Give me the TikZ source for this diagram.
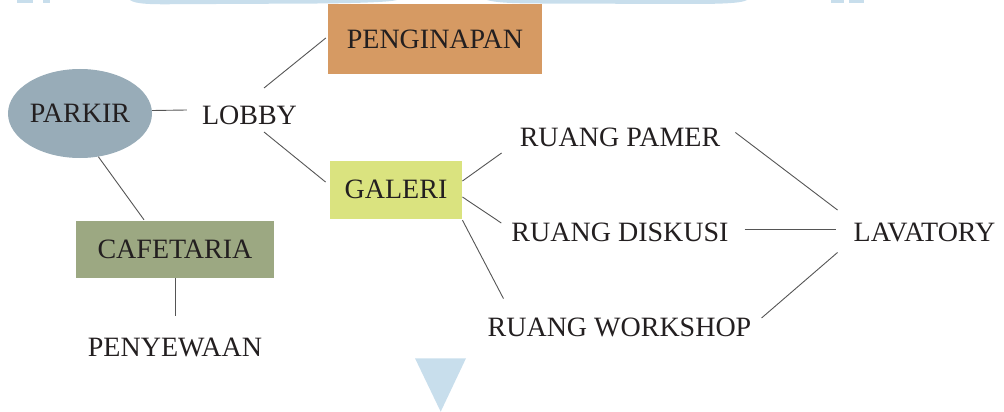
\documentclass[tikz,border=0pt]{standalone}
\usepackage{fontspec}
\setmainfont{Liberation Serif}
\usetikzlibrary{shapes.geometric}
\definecolor{parkircol}{HTML}{98ACB8}
\definecolor{pencol}{HTML}{D69A63}
\definecolor{galcol}{HTML}{DAE37F}
\definecolor{cafcol}{HTML}{9CA882}
\definecolor{txtcol}{HTML}{231F20}
\definecolor{linecol}{HTML}{555555}
\definecolor{wmcol}{HTML}{C8DEEC}
\begin{document}
\begin{tikzpicture}[x=1pt,y=-1pt,
  lbl/.style={inner sep=0pt, text height=18.5pt, text depth=0pt, text=txtcol,
              font=\fontsize{28}{34}\selectfont},
  boxnode/.style={lbl, rectangle, draw=none},
  conn/.style={draw=linecol, line width=0.9pt},
  wm/.style={fill=wmcol, draw=none}]
\useasboundingbox (0,0) rectangle (1004,412);

% watermark pieces
\fill[wm] (17,0) rectangle (33,3.5);
\fill[wm] (43,0) rectangle (50,3.5);
\fill[wm] (130,0) .. controls (135,4) and (150,4.5) .. (175,4.2) -- (300,3.6) .. controls (360,3.4) and (390,2) .. (397,0) -- cycle;
\fill[wm] (487,0) .. controls (495,2.5) and (510,3.4) .. (540,3.5) -- (690,4) .. controls (725,4) and (742,3) .. (747,0) -- cycle;
\fill[wm] (831,0) rectangle (844,3.5);
\fill[wm] (849,0) rectangle (864,3.5);
\fill[wm] (415,358.3) -- (466,358.3) -- (440.7,411.7) -- cycle;

% nodes
\node[lbl, ellipse, fill=parkircol, minimum width=144pt, minimum height=89pt] (parkir) at (80,113.5) {PARKIR};
\node[lbl] (lobby) at (249.5,115) {LOBBY};
\node[boxnode, fill=pencol, minimum width=214pt, minimum height=70pt] (pen) at (435,39) {PENGINAPAN};
\node[boxnode, fill=galcol, minimum width=132.5pt, minimum height=58pt] (galeri) at (396,189.5) {GALERI};
\node[boxnode, fill=cafcol, minimum width=198pt, minimum height=57pt] (caf) at (175,249.5) {CAFETARIA};
\node[lbl] (peny) at (175,347.5) {PENYEWAAN};
\node[lbl] (pamer) at (620,137.5) {RUANG PAMER};
\node[lbl] (diskusi) at (620,232.5) {RUANG DISKUSI};
\node[lbl] (workshop) at (619.5,327) {RUANG WORKSHOP};
\node[lbl] (lav) at (924.5,232.5) {LAVATORY};

% connectors
\draw[conn] ([shift={(0,-3)}]parkir.east) -- ([shift={(-15,-5)}]lobby.west);
\draw[conn] ([shift={(14.5,-27)}]lobby.center) -- ([shift={(-2,-1)}]pen.west);
\draw[conn] ([shift={(14.5,17)}]lobby.center) -- ([shift={(-4,-7.5)}]galeri.west);
\draw[conn] (parkir.-67) -- ([shift={(-31,-1)}]caf.north);
\draw[conn] (caf.south) -- ([shift={(0,-22)}]peny.north);
\draw[conn] ([shift={(0,-8.5)}]galeri.east) -- ([shift={(-18,15.5)}]pamer.west);
\draw[conn] ([shift={(0,7.5)}]galeri.east) -- ([shift={(-10,-9.5)}]diskusi.west);
\draw[conn] ([shift={(0,1.5)}]galeri.south east) -- ([shift={(16,-19)}]workshop.north west);
\draw[conn] ([shift={(15,-5)}]pamer.east) -- ([shift={(-16,-22.5)}]lav.west);
\draw[conn] ([shift={(16,-3)}]diskusi.east) -- ([shift={(-18,-3)}]lav.west);
\draw[conn] ([shift={(10,-9)}]workshop.east) -- ([shift={(-16,20)}]lav.west);
\end{tikzpicture}
\end{document}
